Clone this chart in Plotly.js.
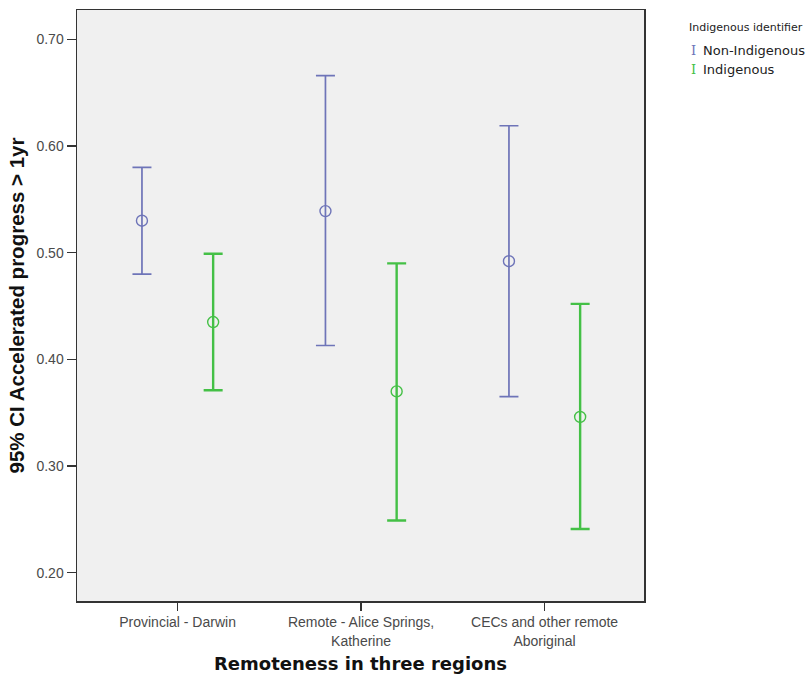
<!DOCTYPE html>
<html>
<head>
<meta charset="utf-8">
<script src="https://cdn.plot.ly/plotly-3.0.1.min.js"></script>
<style>html,body{margin:0;padding:0;background:#fff;}#chart{width:811px;height:684px;}</style>
</head>
<body>
<div id="chart"></div>
<script>
const categories = ["Provincial - Darwin", "Remote - Alice Springs,<br>Katherine", "CECs and other remote<br>Aboriginal"];
const seriesNames = ["Non-Indigenous", "Indigenous"];
const nonIndMean = [0.530, 0.539, 0.492];
const nonIndLow = [0.480, 0.413, 0.365];
const nonIndHigh = [0.580, 0.666, 0.619];
const indMean = [0.435, 0.370, 0.346];
const indLow = [0.371, 0.249, 0.241];
const indHigh = [0.499, 0.490, 0.452];
const yTicks = [0.20, 0.30, 0.40, 0.50, 0.60, 0.70];

const blue = '#6e74b8';
const green = '#44c046';
const offset = 0.194;
const idx = categories.map((c, i) => i);

function makeTrace(name, mean, low, high, color, off, width) {
  return {
    type: 'scatter', mode: 'markers', name: name,
    x: idx.map(i => i + off), y: mean,
    marker: {symbol: 'circle-open', size: 11, color: color, line: {width: 1.4, color: color}},
    error_y: {type: 'data', symmetric: false,
      array: high.map((h, i) => h - mean[i]),
      arrayminus: low.map((l, i) => mean[i] - l),
      color: color, thickness: width, width: 9.5},
    showlegend: false, hoverinfo: 'skip'
  };
}

const data = [
  makeTrace(seriesNames[0], nonIndMean, nonIndLow, nonIndHigh, blue, -offset, 1.7),
  makeTrace(seriesNames[1], indMean, indLow, indHigh, green, offset, 2.4)
];

const tickFont = {family: 'Liberation Sans, Arial, sans-serif', size: 14, color: '#4a4a4a'};

const layout = {
  width: 811, height: 684,
  margin: {l: 77, r: 167, t: 10, b: 83},
  paper_bgcolor: '#ffffff', plot_bgcolor: '#f0f0f0',
  showlegend: false,
  xaxis: {
    range: [-0.548, 2.542], tickmode: 'array', tickvals: idx, ticktext: categories,
    ticks: 'outside', ticklen: 8, tickwidth: 1.3, tickcolor: '#333',
    showline: true, mirror: true, linecolor: '#333', linewidth: 1.5,
    showgrid: false, zeroline: false, tickfont: tickFont, fixedrange: true,
    title: {text: 'Remoteness in three regions', font: {family: 'DejaVu Sans, sans-serif', size: 18, color: '#111', weight: 'bold'}, standoff: 10}
  },
  yaxis: {
    range: [0.1735, 0.7275], tickmode: 'array', tickvals: yTicks, tickformat: '.2f',
    ticks: 'outside', ticklen: 9, tickwidth: 1.3, tickcolor: '#333',
    showline: true, mirror: true, linecolor: '#333', linewidth: 1.5,
    showgrid: false, zeroline: false, tickfont: tickFont, fixedrange: true,
    title: {text: '95% CI Accelerated progress > 1yr', font: {family: 'Liberation Sans, Arial, sans-serif', size: 20.5, color: '#111', weight: 'bold'}, standoff: 6}
  },
  annotations: [
    {xref: 'paper', yref: 'paper', x: 1.075, y: 0.97, xanchor: 'left', yanchor: 'middle', showarrow: false,
     text: 'Indigenous identifier', font: {family: 'DejaVu Sans, sans-serif', size: 11, color: '#222'}},
    {xref: 'paper', yref: 'paper', x: 1.08, y: 0.932, xanchor: 'left', yanchor: 'middle', showarrow: false,
     text: '<span style="color:' + blue + '">I</span>', font: {family: 'DejaVu Serif, serif', size: 13, color: blue}},
    {xref: 'paper', yref: 'paper', x: 1.101, y: 0.932, xanchor: 'left', yanchor: 'middle', showarrow: false,
     text: seriesNames[0], font: {family: 'DejaVu Sans, sans-serif', size: 13, color: '#222'}},
    {xref: 'paper', yref: 'paper', x: 1.08, y: 0.9, xanchor: 'left', yanchor: 'middle', showarrow: false,
     text: '<span style="color:' + green + '">I</span>', font: {family: 'DejaVu Serif, serif', size: 13, color: green}},
    {xref: 'paper', yref: 'paper', x: 1.101, y: 0.9, xanchor: 'left', yanchor: 'middle', showarrow: false,
     text: seriesNames[1], font: {family: 'DejaVu Sans, sans-serif', size: 13, color: '#222'}}
  ]
};

Plotly.newPlot('chart', data, layout, {displayModeBar: false, staticPlot: true});
</script>
</body>
</html>
